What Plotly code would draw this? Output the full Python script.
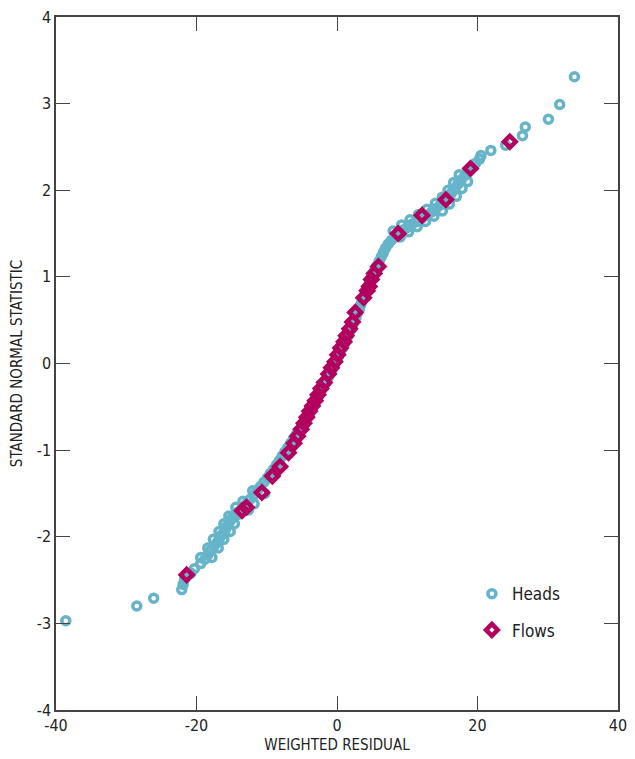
import plotly.graph_objects as go

# Heads: weighted residual (x) vs standard normal statistic (y)
heads_x = [-38.6, -28.5, -26.1, -22.1, -21.9, -21.7, -20.8, -20.3, -19.4, -18.8, -18.4, -18.0,
           -17.5, -17.0, -16.7, -16.3, -15.9, -15.6, -15.3, -15.0, -14.5, -14.0, -13.4, -12.9,
           -12.4, -11.9, -11.4, -10.9, -10.4, -9.9, -9.5, -9.0, -8.6, -8.2, -7.8, -7.4, -7.0,
           -6.6, -6.2, -5.8, -5.4, -5.0, -4.6, -4.3, -3.9, -3.6, -3.2, -2.9, -2.6, -2.3, -1.9,
           -1.6, -1.3, -1.0, -0.7, -0.4, -0.1, 0.2, 0.5, 0.8, 1.1, 1.4, 1.6, 1.9, 2.2, 2.4, 2.7,
           2.9, 3.2, 3.4, 3.6, 3.9, 4.1, 4.3, 4.6, 4.8, 5.1, 5.4, 5.7, 6.0, 6.3, 6.6, 6.9, 7.3,
           7.7, 8.2, 8.8, 9.4, 10.0, 10.7, 11.4, 12.1, 12.8, 13.5, 14.1, 14.7, 15.3, 15.8, 16.3,
           16.8, 17.2, 17.7, 18.2, 18.7, 19.2, 19.7, 20.3, 20.5, 21.9, 24.0, 26.4, 26.8, 30.1,
           31.7, 33.8,
           -19.4, -17.8, -18.4, -16.9, -17.6, -16.1, -16.8, -15.2, -16.1, -14.6, -15.4, -14.0,
           -14.4, -12.6, -13.4, -11.8, -12.0, -10.3,
           8.0, 9.2, 10.4, 11.6, 12.8, 14.0, 15.0, 15.8, 16.6, 17.4,
           9.0, 10.2, 11.4, 12.6, 13.8, 15.0, 16.0, 17.0, 17.8, 18.6]
heads_y = [-2.97, -2.80, -2.71, -2.61, -2.55, -2.49, -2.42, -2.37, -2.31, -2.26, -2.21, -2.16,
           -2.11, -2.06, -2.01, -1.97, -1.92, -1.87, -1.83, -1.79, -1.75, -1.71, -1.67, -1.62,
           -1.57, -1.52, -1.47, -1.42, -1.37, -1.32, -1.27, -1.22, -1.17, -1.12, -1.07, -1.02,
           -0.97, -0.92, -0.87, -0.82, -0.77, -0.72, -0.67, -0.62, -0.57, -0.52, -0.47, -0.42,
           -0.37, -0.32, -0.27, -0.22, -0.17, -0.12, -0.07, -0.02, 0.03, 0.08, 0.13, 0.18, 0.23,
           0.28, 0.33, 0.38, 0.43, 0.48, 0.53, 0.58, 0.63, 0.68, 0.73, 0.78, 0.83, 0.88, 0.93,
           0.98, 1.03, 1.08, 1.13, 1.18, 1.23, 1.28, 1.33, 1.38, 1.42, 1.46, 1.50, 1.54, 1.57,
           1.61, 1.64, 1.68, 1.71, 1.75, 1.79, 1.83, 1.87, 1.92, 1.97, 2.02, 2.07, 2.12, 2.17,
           2.22, 2.27, 2.31, 2.36, 2.40, 2.46, 2.52, 2.63, 2.73, 2.82, 2.99, 3.31,
           -2.24, -2.24, -2.13, -2.13, -2.03, -2.03, -1.94, -1.94, -1.85, -1.85, -1.76, -1.74,
           -1.66, -1.69, -1.59, -1.62, -1.47, -1.50,
           1.53, 1.60, 1.66, 1.72, 1.78, 1.85, 1.92, 2.00, 2.09, 2.18,
           1.46, 1.52, 1.58, 1.64, 1.70, 1.76, 1.84, 1.93, 2.02, 2.10]

# Flows
flows_x = [-21.4, -13.5, -12.9, -10.7, -9.2, -8.1, -6.9, -6.1, -5.6, -5.1, -4.7, -4.3, -3.9,
           -3.5, -3.1, -2.7, -2.3, -1.8, -1.2, -0.8, -0.3, 0.1, 0.5, 1.0, 1.3, 1.8, 2.2, 2.6,
           3.8, 4.3, 4.6, 4.9, 5.3, 5.9, 8.7, 12.1, 15.5, 19.0, 24.6]
flows_y = [-2.44, -1.70, -1.66, -1.49, -1.30, -1.19, -1.03, -0.92, -0.84, -0.76, -0.69, -0.62,
           -0.55, -0.49, -0.43, -0.36, -0.29, -0.22, -0.12, -0.05, 0.02, 0.10, 0.18, 0.25, 0.32,
           0.40, 0.48, 0.59, 0.76, 0.84, 0.89, 0.97, 1.04, 1.12, 1.50, 1.71, 1.89, 2.25, 2.56]

x_ticks = [-40, -20, 0, 20, 40]
y_ticks = [-4, -3, -2, -1, 0, 1, 2, 3, 4]

FONT = "Liberation Sans Narrow, DejaVu Sans Condensed, Roboto, sans-serif"
HEADS_COLOR = "#66b4ca"
FLOWS_COLOR = "#b3005e"


def tfont(size):
    return dict(family=FONT, size=size, color="#222")


fig = go.Figure()
fig.add_trace(go.Scatter(
    x=heads_x, y=heads_y, mode="markers", name="Heads", legendgroup="h",
    marker=dict(symbol="circle-open", size=8, color=HEADS_COLOR,
                line=dict(width=3.5, color=HEADS_COLOR)),
))
fig.add_trace(go.Scatter(
    x=flows_x, y=flows_y, mode="markers", name="Flows", legendgroup="f",
    marker=dict(symbol="diamond-open", size=9, color=FLOWS_COLOR,
                line=dict(width=4.5, color=FLOWS_COLOR)),
))

axis_common = dict(
    showgrid=False, zeroline=False, showline=True, linecolor="#444", linewidth=1.5,
    mirror="ticks", ticks="inside", ticklen=14, tickwidth=1.3, tickcolor="#444",
    tickfont=tfont(16),
)
fig.update_xaxes(range=[-40, 40], tickvals=x_ticks, ticktext=[str(v) for v in x_ticks],
                 title=dict(text="WEIGHTED RESIDUAL", font=tfont(15), standoff=6),
                 **axis_common)
fig.update_yaxes(range=[-4, 4], tickvals=y_ticks, ticktext=[str(v) for v in y_ticks],
                 title=dict(text="STANDARD NORMAL STATISTIC", font=tfont(15), standoff=10),
                 **axis_common)

fig.update_layout(
    width=635, height=759,
    margin=dict(l=56, r=8, t=16, b=48),
    paper_bgcolor="white", plot_bgcolor="white",
    font=tfont(15),
    showlegend=True,
    legend=dict(x=0.74, y=0.193, xanchor="left", yanchor="top",
                font=tfont(17),
                bgcolor="rgba(0,0,0,0)", tracegroupgap=11, itemwidth=30),
)

fig.write_html("out.html")
